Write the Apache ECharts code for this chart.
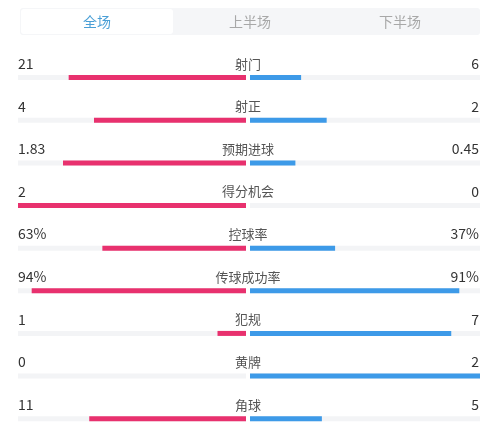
<!DOCTYPE html>
<html><head><meta charset="utf-8">
<script src="https://cdn.jsdelivr.net/npm/echarts@6/dist/echarts.min.js"></script>
<style>html,body{margin:0;padding:0;background:#fff}#c{width:500px;height:440px}</style>
</head><body><div id="c"></div>
<script>
const tabs = ['全场', '上半场', '下半场'];
const categories = ['射门', '射正', '预期进球', '得分机会', '控球率', '传球成功率', '犯规', '黄牌', '角球'];
const homeValues = [21, 4, 1.83, 2, 63, 94, 1, 0, 11];
const awayValues = [6, 2, 0.45, 0, 37, 91, 7, 2, 5];
const isPercent = [false, false, false, false, true, true, false, false, false];
const homeLabels = ['21', '4', '1.83', '2', '63%', '94%', '1', '0', '11'];
const awayLabels = ['6', '2', '0.45', '0', '37%', '91%', '7', '2', '5'];

const homeShare = homeValues.map((h, i) => isPercent[i] ? h / 100 : (h + awayValues[i] ? h / (h + awayValues[i]) : 0));
const awayShare = awayValues.map((a, i) => isPercent[i] ? a / 100 : (a + homeValues[i] ? a / (a + homeValues[i]) : 0));

const chart = echarts.init(document.getElementById('c'), null, {renderer: 'canvas'});
const font = '"Noto Sans CJK SC", "Noto Sans", sans-serif';
const gridTop = 56.3, gridH = 387.5;
chart.setOption({
  animation: false,
  grid: [
    {left: 18, width: 228, top: gridTop, height: gridH},
    {left: 250, width: 230, top: gridTop, height: gridH}
  ],
  xAxis: [
    {gridIndex: 0, type: 'value', min: 0, max: 1, inverse: true, show: false},
    {gridIndex: 1, type: 'value', min: 0, max: 1, show: false}
  ],
  yAxis: [
    {gridIndex: 0, type: 'category', data: categories, inverse: true, show: false},
    {gridIndex: 1, type: 'category', data: categories, inverse: true, show: false}
  ],
  series: [
    {type: 'bar', xAxisIndex: 0, yAxisIndex: 0, data: homeShare, barWidth: 5,
     itemStyle: {color: '#e8316e'}, showBackground: true, backgroundStyle: {color: '#f3f4f6'}},
    {type: 'bar', xAxisIndex: 1, yAxisIndex: 1, data: awayShare, barWidth: 5,
     itemStyle: {color: '#3d9ae8'}, showBackground: true, backgroundStyle: {color: '#f3f4f6'}}
  ]
});

const g = [];
// tabs
g.push({type: 'rect', shape: {x: 20, y: 8, width: 460, height: 27, r: 3}, style: {fill: '#f5f6f8'}, z: 1});
g.push({type: 'rect', shape: {x: 21, y: 9, width: 152, height: 25, r: 3}, style: {fill: '#ffffff'}, z: 2});
const tabX = [97, 250, 400];
tabs.forEach((t, i) => {
  g.push({type: 'text', x: tabX[i], y: 22, z: 3,
    style: {text: t, fill: i === 0 ? '#4a9fd6' : '#a8a8a8', font: '14px ' + font, textAlign: 'center', textVerticalAlign: 'middle'}});
});
categories.forEach((c, i) => {
  const y = chart.convertToPixel({yAxisIndex: 0}, c) - 14;
  g.push({type: 'text', x: 248, y: y, style: {text: c, fill: '#555', font: '13px ' + font, textAlign: 'center', textVerticalAlign: 'middle'}});
  g.push({type: 'text', x: 18, y: y, style: {text: homeLabels[i], fill: '#333', font: '14px ' + font, textAlign: 'left', textVerticalAlign: 'middle'}});
  g.push({type: 'text', x: 479, y: y, style: {text: awayLabels[i], fill: '#333', font: '14px ' + font, textAlign: 'right', textVerticalAlign: 'middle'}});
});
chart.setOption({graphic: g});
</script></body></html>
